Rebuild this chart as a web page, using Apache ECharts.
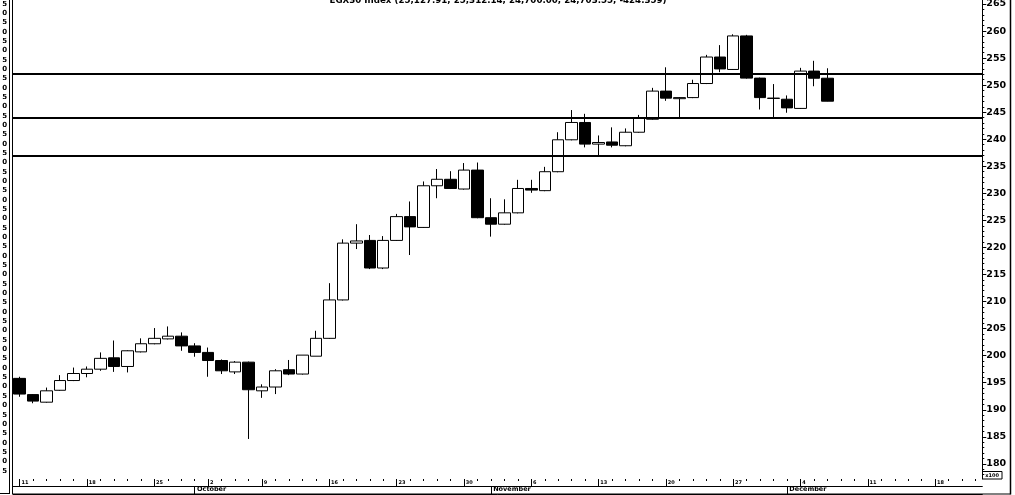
<!DOCTYPE html>
<html>
<head>
<meta charset="utf-8">
<script src="https://cdn.jsdelivr.net/npm/echarts@6/dist/echarts.min.js"></script>
<style>html,body{margin:0;padding:0;background:#fff;}#c{width:1015px;height:495px;}#err{position:absolute;left:40px;top:40px;font:11px monospace;color:red;white-space:pre;}</style>
</head>
<body>
<div id="c"></div>
<div id="err"></div>
<script>
const titleText = 'EGX30 Index (25,127.91, 25,312.14, 24,700.00, 24,703.55, -424.359)';
const dates = ['2023-09-11','2023-09-12','2023-09-13','2023-09-14','2023-09-17','2023-09-18','2023-09-19','2023-09-20','2023-09-21','2023-09-24','2023-09-25','2023-09-26','2023-09-27','2023-10-01','2023-10-02','2023-10-03','2023-10-04','2023-10-08','2023-10-09','2023-10-10','2023-10-11','2023-10-12','2023-10-15','2023-10-16','2023-10-17','2023-10-18','2023-10-19','2023-10-22','2023-10-23','2023-10-24','2023-10-25','2023-10-26','2023-10-29','2023-10-30','2023-10-31','2023-11-01','2023-11-02','2023-11-05','2023-11-06','2023-11-07','2023-11-08','2023-11-09','2023-11-12','2023-11-13','2023-11-14','2023-11-15','2023-11-16','2023-11-19','2023-11-20','2023-11-21','2023-11-22','2023-11-23','2023-11-26','2023-11-27','2023-11-28','2023-11-29','2023-11-30','2023-12-03','2023-12-04','2023-12-05','2023-12-06','2023-12-07','2023-12-10','2023-12-11','2023-12-12','2023-12-13','2023-12-14','2023-12-17','2023-12-18','2023-12-19','2023-12-20','2023-12-21'];
const opens  = [195.8,192.8,191.4,193.6,195.4,196.7,197.5,199.6,198.0,200.7,202.2,203.1,203.6,201.8,200.6,199.1,197.0,198.8,193.5,194.2,197.4,196.6,199.9,203.2,210.3,220.8,221.3,216.2,221.3,225.7,223.7,231.4,232.6,230.8,234.3,225.5,224.3,226.4,230.9,230.5,234.0,239.9,243.1,239.1,239.5,238.8,241.3,243.7,248.9,247.5,247.7,250.3,255.2,252.9,259.1,251.3,247.55,247.4,245.7,252.6,251.2791];
const closes = [192.9,191.6,193.5,195.4,196.7,197.5,199.5,198.0,200.9,202.2,203.2,203.6,201.8,200.6,199.1,197.2,198.8,193.7,194.2,197.2,196.6,200.1,203.2,210.3,220.8,221.2,216.2,221.3,225.7,223.8,231.4,232.6,230.9,234.3,225.5,224.3,226.4,230.9,230.6,234.0,239.9,243.1,239.1,239.4,238.9,241.3,243.9,248.9,247.6,247.7,250.3,255.2,253.0,259.1,251.3,247.7,247.6,245.8,252.6,251.2791,247.0355];
const lows   = [192.4,191.2,191.3,193.5,195.3,196.0,197.2,197.0,196.9,200.6,202.1,203.0,200.9,199.8,196.1,196.6,196.6,184.6,192.2,192.9,196.4,196.5,199.9,203.1,210.2,219.7,216.0,216.0,221.2,218.6,223.6,229.1,230.8,230.7,225.4,222.0,224.2,226.3,230.1,230.4,233.9,239.8,238.5,237.0,238.5,238.7,241.2,243.6,247.1,244.1,247.6,250.2,252.4,252.8,251.2,245.5,244.1,244.9,245.6,249.8,247.0];
const highs  = [196.1,192.9,194.1,196.4,197.8,198.0,200.6,202.8,201.0,203.2,205.1,205.4,204.3,202.3,201.5,199.3,199.0,198.9,194.7,197.5,199.2,200.1,204.6,213.4,221.5,224.3,222.3,222.1,226.2,228.5,232.2,234.5,234.1,235.6,235.7,229.1,228.9,232.5,232.5,234.9,241.3,245.4,244.7,240.7,242.2,242.0,244.5,249.5,253.3,247.8,251.0,255.6,257.4,259.4,259.3,251.4,250.2,248.1,253.2,254.5,253.1214];
const levels = [252.05, 243.95, 236.95];
const priceTicks = [180,185,190,195,200,205,210,215,220,225,230,235,240,245,250,255,260,265];
const leftTicks = [5,10,15,20,25,30,35,40,45,50,55,60,65,70,75,80,85,90,95,100,105,110,115,120,125,130,135,140,145,150,155,160,165,170,175,180,185,190,195,200,205,210,215,220,225,230,235,240,245,250,255];
const monthNames = ['January','February','March','April','May','June','July','August','September','October','November','December'];

const yMin = 177.2, yMax = 265.74;
const minorTicks = [];
for (let v = Math.ceil(yMin); v <= yMax; v++) minorTicks.push(v);

const candles = opens.map((o, i) => [o, closes[i], lows[i], highs[i]]);
const isMonday = (i) => new Date(dates[i] + 'T00:00:00Z').getUTCDay() === 1;
const isMonthStart = (i) => i > 0 && dates[i].slice(5, 7) !== dates[i - 1].slice(5, 7);

const FONT = 'DejaVu Sans';
const L = 13, R = 32.7;
const hiddenY = (g) => ({type: 'value', gridIndex: g, show: false, min: 0, max: 1});

const chart = echarts.init(document.getElementById('c'), null, {renderer: 'canvas'});
try {
chart.setOption({
  animation: false,
  backgroundColor: '#fff',
  title: {
    text: titleText, left: 493, top: -9, textAlign: 'center',
    textStyle: {fontFamily: FONT, fontSize: 8.7, fontWeight: 'bold', color: '#000'}
  },
  grid: [
    {left: L, right: R, top: 0, bottom: 16, containLabel: false, outerBoundsMode: 'none'},
    {left: L, right: R, top: 479, height: 7, containLabel: false, outerBoundsMode: 'none'},
    {left: L, right: R, top: 486, height: 8, containLabel: false, outerBoundsMode: 'none'}
  ],
  xAxis: [
    {type: 'category', gridIndex: 0, data: dates, boundaryGap: true,
      axisLine: {show: false}, axisTick: {show: false}, axisLabel: {show: false}, splitLine: {show: false}},
    {type: 'category', gridIndex: 1, data: dates, boundaryGap: true, position: 'bottom',
      axisLine: {show: true, lineStyle: {color: '#000', width: 1}},
      axisTick: {show: true, inside: true, length: 6, alignWithLabel: true, interval: (i) => isMonday(i), lineStyle: {color: '#000'}},
      axisLabel: {show: true, inside: true, margin: 1, interval: (i) => isMonday(i), align: 'left',
        formatter: (v) => ' ' + String(parseInt(v.slice(8, 10), 10)),
        fontFamily: FONT, fontSize: 5, fontWeight: 'bold', color: '#000'},
      splitLine: {show: false}},
    {type: 'category', gridIndex: 2, data: dates, boundaryGap: true, position: 'bottom',
      axisLine: {show: true, lineStyle: {color: '#000', width: 1}},
      axisTick: {show: true, inside: true, length: 8, alignWithLabel: true, interval: (i) => isMonthStart(i), lineStyle: {color: '#000'}},
      axisLabel: {show: true, inside: true, margin: 1.5, interval: (i) => isMonthStart(i), align: 'left',
        formatter: (v) => ' ' + monthNames[parseInt(v.slice(5, 7), 10) - 1],
        fontFamily: FONT, fontSize: 6.5, fontWeight: 'bold', color: '#000'},
      splitLine: {show: false}},
    {type: 'category', gridIndex: 1, data: dates, boundaryGap: true, position: 'top',
      axisLine: {show: false},
      axisTick: {show: true, inside: true, length: 2, alignWithLabel: true, interval: 0, lineStyle: {color: '#000'}},
      axisLabel: {show: false}, splitLine: {show: false}}
  ],
  yAxis: [
    {type: 'value', gridIndex: 0, position: 'right', min: yMin, max: yMax, scale: true,
      axisLine: {show: true, lineStyle: {color: '#000', width: 1}},
      axisTick: {show: true, length: 4, customValues: priceTicks, lineStyle: {color: '#000'}},
      axisLabel: {show: true, margin: 4, customValues: priceTicks, fontFamily: FONT, fontSize: 9.5, fontWeight: 'bold', color: '#000'},
      splitLine: {show: false}},
    {type: 'value', gridIndex: 0, position: 'right', min: yMin, max: yMax, scale: true,
      axisLine: {show: false},
      axisTick: {show: true, length: 2, customValues: minorTicks, lineStyle: {color: '#000'}},
      axisLabel: {show: false}, splitLine: {show: false}},
    {type: 'value', gridIndex: 0, position: 'left', min: 0.55, max: 257.14, scale: true,
      axisLine: {show: false}, axisTick: {show: false},
      axisLabel: {show: true, margin: 6, customValues: leftTicks, formatter: (v) => String(v).slice(-1),
        fontFamily: FONT, fontSize: 7, fontWeight: 'bold', color: '#000'},
      splitLine: {show: false}},
    hiddenY(1),
    hiddenY(2)
  ],
  series: [{
    type: 'candlestick', xAxisIndex: 0, yAxisIndex: 0, data: candles, barWidth: 12,
    itemStyle: {color: '#fff', color0: '#000', borderColor: '#000', borderColor0: '#000', borderWidth: 1},
    markLine: {
      silent: true, symbol: ['none', 'none'], label: {show: false},
      lineStyle: {color: '#000', width: 2, type: 'solid'},
      data: levels.map(v => ({yAxis: v}))
    }
  }],
  graphic: [
    {type: 'line', shape: {x1: 9.5, y1: 0, x2: 9.5, y2: 494}, style: {stroke: '#000', lineWidth: 1}},
    {type: 'line', shape: {x1: 0, y1: 493.5, x2: 9.5, y2: 493.5}, style: {stroke: '#000', lineWidth: 1}},
    {type: 'line', shape: {x1: 12.5, y1: 0, x2: 12.5, y2: 494}, style: {stroke: '#000', lineWidth: 1}},
    {type: 'line', shape: {x1: 1010.5, y1: 0, x2: 1010.5, y2: 494.5}, style: {stroke: '#000', lineWidth: 1.5}},
    {type: 'line', shape: {x1: 12.5, y1: 494, x2: 1010.5, y2: 494}, style: {stroke: '#000', lineWidth: 1}},
    {type: 'rect', shape: {x: 982.5, y: 471.5, width: 19.5, height: 7.5}, style: {fill: '#fff', stroke: '#000', lineWidth: 1}},
    {type: 'text', x: 992.2, y: 475.3, style: {text: 'x100', fontFamily: FONT, fontSize: 5, fontWeight: 'bold', fill: '#000', align: 'center', verticalAlign: 'middle'}}
  ]
});
} catch (e) { document.getElementById('err').textContent = e.message; }
</script>
</body>
</html>
